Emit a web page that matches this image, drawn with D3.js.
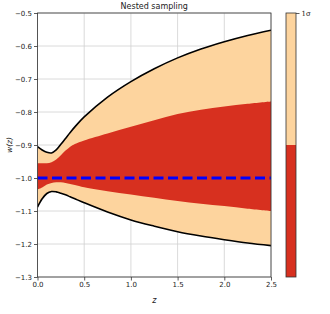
<!DOCTYPE html>
<html>
<head>
<meta charset="utf-8">
<script src="https://cdn.jsdelivr.net/npm/d3@7"></script>
<style>
  body { margin: 0; background: #fff; }
  svg { display: block; font-family: "DejaVu Sans", sans-serif; }
</style>
</head>
<body>
<svg id="chart" width="330" height="314"></svg>
<script>
// redshift grid and the contour edges
const zs      = [0, 0.05, 0.1, 0.15, 0.2, 0.25, 0.3, 0.35, 0.4, 0.5, 0.75, 1.0, 1.25, 1.5, 1.75, 2.0, 2.25, 2.5];
const upper1  = [-0.905, -0.915, -0.922, -0.924, -0.915, -0.898, -0.880, -0.862, -0.845, -0.815, -0.755, -0.708, -0.669, -0.636, -0.609, -0.587, -0.568, -0.552];
const lower1  = [-1.088, -1.063, -1.047, -1.041, -1.042, -1.046, -1.051, -1.057, -1.063, -1.075, -1.103, -1.127, -1.146, -1.163, -1.176, -1.187, -1.197, -1.205];
const upperIn = [-0.955, -0.955, -0.955, -0.952, -0.944, -0.931, -0.917, -0.905, -0.897, -0.886, -0.865, -0.845, -0.825, -0.806, -0.793, -0.783, -0.775, -0.768];
const lowerIn = [-1.035, -1.029, -1.020, -1.015, -1.013, -1.013, -1.015, -1.018, -1.021, -1.028, -1.040, -1.050, -1.060, -1.070, -1.078, -1.085, -1.093, -1.100];
const wTrue   = -1.0;

const xTicks = [0, 0.5, 1.0, 1.5, 2.0, 2.5];
const yTicks = [-0.5, -0.6, -0.7, -0.8, -0.9, -1.0, -1.1, -1.2, -1.3];
const barLevels = [0, 0.5, 1];   // colorbar levels, in sigma

const peach = '#fdd49e';
const red   = '#d7301f';

let svg = d3.select('#chart');
let m = { l: 37.5, r: 271, t: 13, b: 277 };

let x = d3.scaleLinear().domain([0, 2.5]).range([m.l, m.r]);
let y = d3.scaleLinear().domain([-1.3, -0.5]).range([m.b, m.t]);

let fmt = (v) => d3.format('.1f')(v).replace('-', '\u2212');

// grid
let grid = svg.append('g').attr('class', 'grid');
grid.selectAll('line.gx')
    .data(xTicks)
    .enter()
    .append('line')
    .attr('x1', (d) => x(d)).attr('x2', (d) => x(d))
    .attr('y1', m.t).attr('y2', m.b)
    .attr('stroke', '#d0d0d0').attr('stroke-width', 0.8);
grid.selectAll('line.gy')
    .data(yTicks)
    .enter()
    .append('line')
    .attr('x1', m.l).attr('x2', m.r)
    .attr('y1', (d) => y(d)).attr('y2', (d) => y(d))
    .attr('stroke', '#d0d0d0').attr('stroke-width', 0.8);

let pts = zs.map((z, i) => ({ z: z, u1: upper1[i], l1: lower1[i], ui: upperIn[i], li: lowerIn[i] }));

svg.append('clipPath').attr('id', 'plotclip')
    .append('rect').attr('x', m.l).attr('y', m.t).attr('width', m.r - m.l).attr('height', m.b - m.t);

let plot = svg.append('g').attr('clip-path', 'url(#plotclip)');

let curve = d3.curveCatmullRom.alpha(0.5);

plot.append('path')
    .datum(pts)
    .attr('fill', peach)
    .attr('d', d3.area().curve(curve).x((d) => x(d.z)).y0((d) => y(d.l1)).y1((d) => y(d.u1)));

plot.append('path')
    .datum(pts)
    .attr('fill', red)
    .attr('d', d3.area().curve(curve).x((d) => x(d.z)).y0((d) => y(d.li)).y1((d) => y(d.ui)));

let edge = (key) => d3.line().curve(curve).x((d) => x(d.z)).y((d) => y(d[key]));

['u1', 'l1'].forEach((k) => {
    plot.append('path')
        .datum(pts)
        .attr('fill', 'none')
        .attr('stroke', '#000')
        .attr('stroke-width', 1.6)
        .attr('d', edge(k));
});

plot.append('line')
    .attr('x1', x(0)).attr('x2', x(2.5))
    .attr('y1', y(wTrue)).attr('y2', y(wTrue))
    .attr('stroke', '#0000ff')
    .attr('stroke-width', 3.2)
    .attr('stroke-dasharray', '10,4.5');

// axes
let xAxis = svg.append('g')
    .attr('transform', 'translate(0,' + m.b + ')')
    .call(d3.axisBottom(x).tickValues(xTicks).tickFormat(fmt).tickSize(3.5).tickPadding(2));
let yAxis = svg.append('g')
    .attr('transform', 'translate(' + m.l + ',0)')
    .call(d3.axisLeft(y).tickValues(yTicks).tickFormat(fmt).tickSize(3.5).tickPadding(2));

[xAxis, yAxis].forEach((a) => {
    a.select('.domain').remove();
    a.selectAll('text').attr('font-size', 7).attr('fill', '#222').attr('font-family', '"DejaVu Sans", sans-serif');
    a.selectAll('line').attr('stroke', '#333').attr('stroke-width', 0.8);
});

svg.append('rect')
    .attr('x', m.l).attr('y', m.t)
    .attr('width', m.r - m.l).attr('height', m.b - m.t)
    .attr('fill', 'none').attr('stroke', '#333').attr('stroke-width', 0.8);

// labels
svg.append('text')
    .attr('x', (m.l + m.r) / 2).attr('y', 8.5)
    .attr('text-anchor', 'middle')
    .attr('font-size', 8).attr('fill', '#222')
    .text('Nested sampling');

svg.append('text')
    .attr('x', (m.l + m.r) / 2).attr('y', 303)
    .attr('text-anchor', 'middle')
    .attr('font-size', 8).attr('font-style', 'italic').attr('fill', '#222')
    .text('z');

svg.append('text')
    .attr('transform', 'translate(12,' + ((m.t + m.b) / 2) + ') rotate(-90)')
    .attr('text-anchor', 'middle')
    .attr('font-size', 7.5).attr('font-style', 'italic').attr('fill', '#222')
    .text('w(z)');

// colorbar
let cb = { l: 286, r: 296 };
let c = d3.scaleLinear().domain([0, 1]).range([m.b, m.t]);
let bands = [
    { lo: barLevels[0], hi: barLevels[1], fill: red },
    { lo: barLevels[1], hi: barLevels[2], fill: peach },
];
svg.selectAll('rect.cb')
    .data(bands)
    .enter()
    .append('rect')
    .attr('class', 'cb')
    .attr('x', cb.l).attr('width', cb.r - cb.l)
    .attr('y', (d) => c(d.hi))
    .attr('height', (d) => c(d.lo) - c(d.hi))
    .attr('fill', (d) => d.fill);
svg.append('rect')
    .attr('x', cb.l).attr('y', m.t)
    .attr('width', cb.r - cb.l).attr('height', m.b - m.t)
    .attr('fill', 'none').attr('stroke', '#333').attr('stroke-width', 0.8);

let cAxis = svg.append('g')
    .attr('transform', 'translate(' + cb.r + ',0)')
    .call(d3.axisRight(c).tickValues([1]).tickFormat(() => '1\u03c3').tickSize(3.5).tickPadding(2));
cAxis.select('.domain').remove();
cAxis.selectAll('text').attr('font-size', 7).attr('fill', '#222').attr('font-family', '"DejaVu Serif", serif');
cAxis.selectAll('line').attr('stroke', '#333').attr('stroke-width', 0.8);
</script>
</body>
</html>
